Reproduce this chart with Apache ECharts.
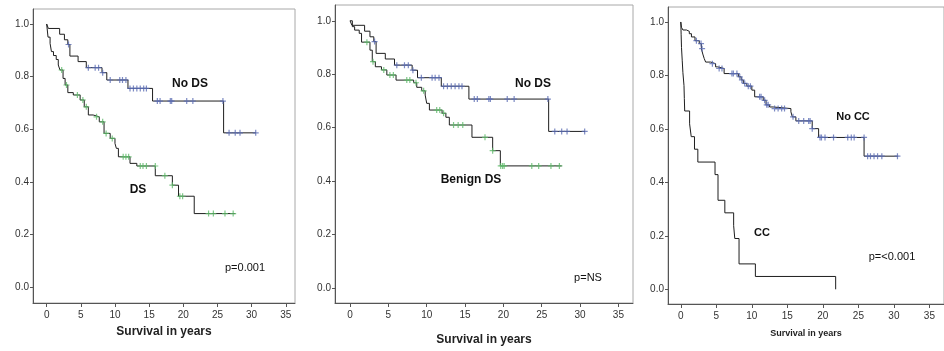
<!DOCTYPE html>
<html>
<head>
<meta charset="utf-8">
<script src="https://cdn.jsdelivr.net/npm/echarts@6/dist/echarts.min.js"></script>
<style>
  html, body { margin: 0; padding: 0; background: #fff; }
  #chart { width: 944px; height: 351px; }
</style>
</head>
<body>
<div id="chart"></div>
<script>
// tick values shared by all three panels
var xTicks = [0, 5, 10, 15, 20, 25, 30, 35];
var yTicks = [0, 0.2, 0.4, 0.6, 0.8, 1.0];

// panel 1 + 2 : No DS  ([time, survival after event])
var noDsSteps = [[0,1.0],[0.25,0.983],[1.9,0.961],[2.6,0.94],[3.1,0.922],[3.4,0.878],[4.6,0.857],[5.8,0.834],
  [8.1,0.815],[8.8,0.787],[11.9,0.755],[15.5,0.707],[25.9,0.586],[30.65,0.586]];
var noDsCensor = [[3.2,0.922],[6.1,0.834],[7.1,0.834],[7.6,0.834],[8.2,0.815],[9.3,0.787],[10.7,0.787],[11.1,0.787],
  [11.6,0.787],[12.2,0.755],[12.7,0.755],[13.2,0.755],[13.7,0.755],[14.2,0.755],[14.6,0.755],[16.2,0.707],[16.6,0.707],
  [18.1,0.707],[18.3,0.707],[20.5,0.707],[21.4,0.707],[25.8,0.707],[26.7,0.586],[27.6,0.586],[28.3,0.586],[30.6,0.586]];

// panel 1 : DS
var dsSteps = [[0,1.0],[0.2,0.95],[0.5,0.926],[0.7,0.895],[1.0,0.88],[1.4,0.865],[1.7,0.844],[1.95,0.825],[2.4,0.793],
  [2.7,0.768],[3.1,0.739],[3.9,0.73],[4.9,0.711],[5.5,0.685],[6.1,0.654],[6.8,0.647],[7.7,0.628],[8.4,0.584],[9.3,0.565],
  [10.0,0.546],[10.2,0.527],[10.5,0.495],[12.2,0.47],[13.2,0.46],[15.9,0.423],[18.4,0.387],[19.3,0.345],[21.6,0.279],[27.6,0.279]];
var dsCensor = [[2.2,0.825],[2.9,0.768],[4.5,0.73],[5.3,0.711],[5.8,0.685],[7.3,0.647],[8.2,0.628],[8.7,0.584],[9.6,0.565],
  [11.2,0.495],[11.6,0.495],[12.0,0.495],[13.7,0.46],[14.1,0.46],[14.6,0.46],[15.9,0.46],[17.3,0.423],[18.4,0.387],
  [19.5,0.345],[19.9,0.345],[23.7,0.279],[24.4,0.279],[26.1,0.279],[27.3,0.279]];

// panel 2 : Benign DS
var benignSteps = [[0,1.0],[0.3,0.978],[0.6,0.965],[1.2,0.953],[1.5,0.92],[2.6,0.89],[2.9,0.847],[3.3,0.828],[4.1,0.816],
  [4.8,0.797],[6.0,0.778],[8.3,0.768],[8.7,0.751],[9.35,0.738],[9.8,0.722],[10.0,0.691],[10.35,0.666],[12.0,0.654],
  [12.5,0.639],[12.95,0.61],[15.9,0.564],[18.6,0.514],[19.6,0.457],[27.6,0.457]];
var benignCensor = [[2.2,0.92],[3.0,0.847],[4.4,0.816],[5.2,0.797],[5.65,0.797],[7.4,0.778],[7.8,0.778],[8.6,0.768],
  [9.6,0.738],[11.3,0.666],[11.7,0.666],[12.2,0.654],[13.5,0.61],[14.1,0.61],[14.7,0.61],[17.6,0.564],[18.6,0.514],
  [19.65,0.457],[19.9,0.457],[20.1,0.457],[23.7,0.457],[24.6,0.457],[26.2,0.457],[27.3,0.457]];

// panel 3 : No CC
var noCcSteps = [[0,1.0],[0.1,0.98],[0.3,0.97],[0.8,0.965],[1.2,0.956],[1.5,0.944],[2.0,0.93],[2.6,0.919],[2.9,0.9],
  [3.1,0.88],[3.3,0.863],[3.5,0.85],[4.2,0.844],[4.9,0.832],[5.2,0.826],[6.1,0.807],[8.1,0.795],[8.5,0.783],[8.8,0.77],
  [9.3,0.76],[10.0,0.745],[10.4,0.72],[11.6,0.707],[12.0,0.69],[12.5,0.682],[13.0,0.676],[15.5,0.664],[15.7,0.645],
  [16.2,0.63],[18.5,0.601],[19.4,0.568],[25.8,0.498],[30.6,0.498]];
var noCcCensor = [[2.2,0.93],[2.85,0.919],[3.0,0.9],[4.45,0.844],[5.4,0.826],[5.8,0.826],[7.2,0.807],[7.4,0.807],
  [7.9,0.807],[8.3,0.795],[8.6,0.783],[9.0,0.77],[9.5,0.76],[9.8,0.76],[11.1,0.72],[11.3,0.72],[11.8,0.707],[12.1,0.69],
  [12.3,0.69],[13.2,0.676],[13.7,0.676],[14.2,0.676],[14.6,0.676],[15.8,0.645],[16.6,0.63],[17.3,0.63],[18.0,0.63],
  [18.2,0.63],[18.5,0.601],[19.6,0.568],[19.8,0.568],[20.3,0.568],[21.5,0.568],[23.5,0.568],[24.0,0.568],[24.4,0.568],
  [25.8,0.568],[26.3,0.498],[26.7,0.498],[27.2,0.498],[27.7,0.498],[28.3,0.498],[30.5,0.498]];

// panel 3 : CC (no censored cases)
var ccSteps = [[0,1.0],[0.05,0.952],[0.1,0.905],[0.2,0.857],[0.3,0.81],[0.45,0.762],[0.5,0.714],[0.55,0.667],[1.24,0.619],
  [1.47,0.571],[1.93,0.524],[2.4,0.476],[4.82,0.429],[5.24,0.333],[6.2,0.286],[7.44,0.238],[7.6,0.19],[8.2,0.095],
  [10.5,0.048],[21.8,0.0]];

var BLUE = '#5b6db4';
var GREEN = '#5fba6a';
var FONT = 'Liberation Sans, Arial, sans-serif';
var plusPath = 'path://M4,0 L6,0 L6,4 L10,4 L10,6 L6,6 L6,10 L4,10 L4,6 L0,6 L0,4 L4,4 Z';

var chart = echarts.init(document.getElementById('chart'));

// grid boxes + axis ranges (range runs a bit past 0..35 / 0..1 like the SPSS frame)
var grids = [
  { left: 33, top: 9, width: 262, height: 294, show: true, borderColor: '#a8a8a8', borderWidth: 1 },
  { left: 335, top: 5, width: 298, height: 298, show: true, borderColor: '#a8a8a8', borderWidth: 1 },
  { left: 668, top: 7, width: 282, height: 297, show: true, borderColor: '#a8a8a8', borderWidth: 1 }
];
var xRanges = [[-2.0, 36.35], [-1.96, 36.9], [-1.8, 37.05]];
var yRanges = [[-0.061, 1.057], [-0.056, 1.059], [-0.055, 1.056]];
var nameGaps = [23, 31, 25];
var nameSizes = [12, 12, 9];

var xAxes = [], yAxes = [];
for (var i = 0; i < 3; i++) {
  xAxes.push({
    gridIndex: i, type: 'value', min: xRanges[i][0], max: xRanges[i][1],
    name: 'Survival in years', nameLocation: 'middle', nameGap: nameGaps[i],
    nameTextStyle: { fontFamily: FONT, fontWeight: 'bold', fontSize: nameSizes[i], color: '#222' },
    axisLine: { show: true, onZero: false, lineStyle: { color: '#555', width: 1 } },
    axisTick: { show: true, length: 4, customValues: xTicks, lineStyle: { color: '#555' } },
    axisLabel: { customValues: xTicks, margin: 7, fontFamily: FONT, fontSize: 10, color: '#333' },
    splitLine: { show: false }
  });
  yAxes.push({
    gridIndex: i, type: 'value', min: yRanges[i][0], max: yRanges[i][1],
    axisLine: { show: true, onZero: false, lineStyle: { color: '#555', width: 1 } },
    axisTick: { show: true, length: 3, customValues: yTicks, lineStyle: { color: '#555' } },
    axisLabel: { customValues: yTicks, margin: 4, fontFamily: FONT, fontSize: 10, color: '#333',
      formatter: function (v) { return v.toFixed(1); } },
    splitLine: { show: false }
  });
}

function kmLine(data, gi) {
  return { type: 'line', step: 'end', data: data, xAxisIndex: gi, yAxisIndex: gi,
    showSymbol: false, lineStyle: { color: '#1e1e1e', width: 1 }, silent: true, z: 2 };
}
function censor(data, gi, color) {
  return { type: 'scatter', data: data, xAxisIndex: gi, yAxisIndex: gi,
    symbol: plusPath, symbolSize: 6, itemStyle: { color: color }, silent: true, z: 3 };
}

function label(text, x, y, bold, size) {
  return { type: 'text', x: x, y: y, z: 10,
    style: { text: text, fill: '#111', font: (bold ? 'bold ' : '') + size + 'px ' + FONT,
      textAlign: 'center', textVerticalAlign: 'middle' } };
}

var option = {
  animation: false,
  backgroundColor: '#fff',
  grid: grids,
  xAxis: xAxes,
  yAxis: yAxes,
  series: [
    kmLine(noDsSteps, 0), kmLine(dsSteps, 0),
    censor(noDsCensor, 0, BLUE), censor(dsCensor, 0, GREEN),
    kmLine(noDsSteps, 1), kmLine(benignSteps, 1),
    censor(noDsCensor, 1, BLUE), censor(benignCensor, 1, GREEN),
    kmLine(noCcSteps, 2), kmLine(ccSteps, 2),
    censor(noCcCensor, 2, BLUE)
  ],
  graphic: [
    label('No DS', 190, 84, true, 12),
    label('DS', 138, 190, true, 12),
    label('p=0.001', 245, 268, false, 11),
    label('No DS', 533, 84, true, 12),
    label('Benign DS', 471, 180, true, 12),
    label('p=NS', 588, 278, false, 11),
    label('No CC', 853, 117, true, 11),
    label('CC', 762, 233, true, 11),
    label('p=<0.001', 892, 257, false, 11)
  ]
};

chart.setOption(option);
</script>
</body>
</html>
